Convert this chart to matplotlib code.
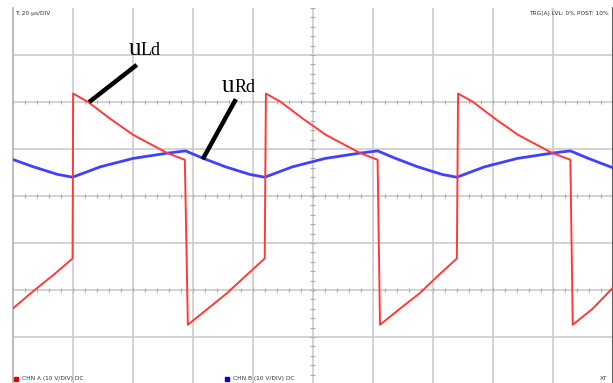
import matplotlib
matplotlib.use("Agg")
import matplotlib.pyplot as plt
import numpy as np

# ---- data (in divisions: x 0..10, y -4..4) ----
red_x = [0.00, 0.35, 0.70, 1.00, 1.01, 1.26, 1.62, 2.01, 2.29, 2.57, 2.87, 2.92,
         3.25, 3.57, 3.90, 4.20, 4.22, 4.47, 4.83, 5.22, 5.50, 5.78, 6.08, 6.12,
         6.45, 6.78, 7.10, 7.40, 7.42, 7.67, 8.03, 8.42, 8.70, 8.98, 9.29, 9.33,
         9.66, 10.0]
red_y = [-2.40, -2.02, -1.66, -1.33, 2.18, 2.00, 1.65, 1.30, 1.11, 0.92, 0.77, -2.74,
         -2.40, -2.07, -1.68, -1.33, 2.18, 2.00, 1.65, 1.30, 1.11, 0.92, 0.77, -2.74,
         -2.40, -2.07, -1.68, -1.33, 2.18, 2.00, 1.65, 1.30, 1.11, 0.92, 0.77, -2.74,
         -2.40, -1.95]

blue_x = [0.00, 0.35, 0.75, 1.00, 1.46, 2.01, 2.57, 2.88, 3.18, 3.55, 3.95, 4.20,
          4.66, 5.21, 5.77, 6.08, 6.38, 6.75, 7.15, 7.40, 7.86, 8.41, 8.97, 9.29,
          9.59, 10.0]
blue_y = [0.78, 0.62, 0.46, 0.40, 0.62, 0.80, 0.91, 0.96, 0.80, 0.62, 0.46, 0.40,
          0.62, 0.80, 0.91, 0.96, 0.80, 0.62, 0.46, 0.40, 0.62, 0.80, 0.91, 0.96,
          0.80, 0.60]

label_uld = ("u", "Ld")
label_urd = ("u", "Rd")
top_left_text = "T: 20 µs/DIV"
top_right_text = "TRG(A) LVL: 0% POST: 10%"
chan_a_text = "CHN A (10 V/DIV) DC"
chan_b_text = "CHN B (10 V/DIV) DC"
mode_text = "XT"

# ---- figure ----
W, H = 613, 383
fig = plt.figure(figsize=(W / 100, H / 100), dpi=100)
fig.patch.set_facecolor("white")
ax = fig.add_axes([12.5 / W, -1 / H, (W - 12.5) / W, (H - 8 + 1) / H])
ax.set_xlim(0, 10)
ax.set_ylim(-4, 4)
ax.set_xticks([])
ax.set_yticks([])
for s in ["top", "bottom"]:
    ax.spines[s].set_visible(False)
ax.spines["left"].set_color("#b0b0b0")
ax.spines["left"].set_linewidth(1.2)
ax.spines["right"].set_color("#606060")
ax.spines["right"].set_linewidth(1.5)

gc = "#cccccc"
for xv in range(1, 10):
    ax.axvline(xv, color=gc, lw=1.2, zorder=1)
for yv in range(-3, 4):
    ax.axhline(yv, color=gc, lw=1.2, zorder=1)

# small tick marks on center lines
tick_pos_x = np.arange(0, 10.01, 0.2)
for yv in (-2, 0, 2):
    ax.vlines(tick_pos_x, yv - 0.05, yv + 0.05, color="#aaaaaa", lw=0.8, zorder=1)
tick_pos_y = np.arange(-4, 4.01, 0.2)
ax.hlines(tick_pos_y, 5 - 0.04, 5 + 0.04, color="#aaaaaa", lw=0.8, zorder=1)

ax.plot(blue_x, blue_y, color="#4040ff", lw=2.0, zorder=3, solid_joinstyle="round")
ax.plot(red_x, red_y, color="#ff3838", lw=1.4, zorder=4, solid_joinstyle="round")

# annotation pointer lines
ax.plot([2.07, 1.277], [2.79, 2.0], color="black", lw=3.2, zorder=5, solid_capstyle="butt")
ax.plot([3.72, 3.166], [2.06, 0.78], color="black", lw=3.2, zorder=5, solid_capstyle="butt")

serif = "Liberation Serif"
ax.text(2.14, 3.0, label_uld[0], fontsize=18, family=serif, ha="right", va="baseline", zorder=6)
ax.text(2.14, 3.0, label_uld[1], fontsize=13, family=serif, ha="left", va="baseline", zorder=6)
ax.text(3.69, 2.21, label_urd[0], fontsize=18, family=serif, ha="right", va="baseline", zorder=6)
ax.text(3.69, 2.21, label_urd[1], fontsize=13, family=serif, ha="left", va="baseline", zorder=6)

# small oscilloscope texts (figure pixel coordinates)
def fx(px):
    return px / W

def fy(py):
    return 1 - py / H

fig.text(fx(15), fy(13), top_left_text, fontsize=4.2, color="#333333", va="center", ha="left")
fig.text(fx(609), fig_y := fy(13), top_right_text, fontsize=4.2, color="#333333", va="center", ha="right")
fig.patches.append(plt.Rectangle((fx(14), fy(380.5)), 4 / W, 4 / H, transform=fig.transFigure,
                                 color="#e00000", figure=fig))
fig.text(fx(22), fy(378.5), chan_a_text, fontsize=4.2, color="#333333", va="center", ha="left")
fig.patches.append(plt.Rectangle((fx(225), fy(380.5)), 4 / W, 4 / H, transform=fig.transFigure,
                                 color="#0000e0", figure=fig))
fig.text(fx(233), fy(378.5), chan_b_text, fontsize=4.2, color="#333333", va="center", ha="left")
fig.text(fx(607), fy(378.5), mode_text, fontsize=4.2, color="#333333", va="center", ha="right")

fig.savefig("out.png", dpi=100, facecolor="white")
